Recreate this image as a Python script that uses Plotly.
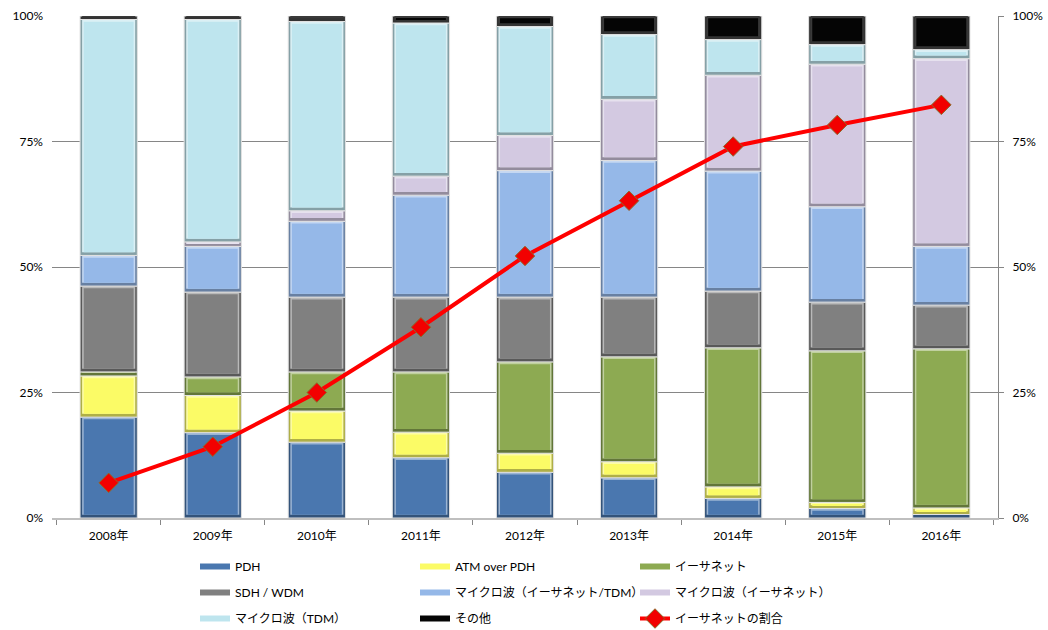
import plotly.graph_objects as go

years = ["2008年", "2009年", "2010年", "2011年", "2012年", "2013年", "2014年", "2015年", "2016年"]

# Share of each backhaul technology (%)
pdh = [20.1, 17.0, 15.1, 12.0, 9.1, 8.0, 3.9, 1.9, 0.7]
atm_over_pdh = [8.2, 7.4, 6.2, 5.1, 3.8, 3.2, 2.3, 1.2, 1.3]
ethernet = [0.8, 3.7, 7.8, 12.0, 18.2, 20.9, 27.7, 30.2, 31.7]
sdh_wdm = [17.1, 16.9, 14.9, 14.9, 12.9, 11.9, 11.3, 9.7, 8.7]
mw_eth_tdm = [6.1, 9.1, 15.1, 20.3, 25.2, 27.2, 23.9, 19.0, 11.7]
mw_eth = [0.0, 0.9, 2.1, 3.8, 7.0, 12.2, 19.1, 28.4, 37.4]
mw_tdm = [47.0, 44.3, 37.7, 30.5, 21.7, 12.9, 7.1, 3.9, 1.8]
other = [0.7, 0.7, 1.1, 1.4, 2.1, 3.7, 4.7, 5.7, 6.7]

# Ethernet share line (%)
ethernet_share = [7.0, 14.2, 25.0, 38.0, 52.2, 63.2, 74.0, 78.3, 82.3]

y_ticks = [0, 25, 50, 75, 100]
y_tick_text = ["0%", "25%", "50%", "75%", "100%"]

series = [
    ("PDH", pdh, "#4A77AF", "legend"),
    ("ATM over PDH", atm_over_pdh, "#FBFB66", "legend2"),
    ("イーサネット", ethernet, "#8DAA52", "legend3"),
    ("SDH / WDM", sdh_wdm, "#808080", "legend"),
    ("マイクロ波（イーサネット/TDM）", mw_eth_tdm, "#95B8E8", "legend2"),
    ("マイクロ波（イーサネット）", mw_eth, "#D3C9E1", "legend3"),
    ("マイクロ波（TDM）", mw_tdm, "#BEE5EE", "legend"),
    ("その他", other, "#050505", "legend2"),
]

FONT = "Lato, 'Noto Sans CJK JP', sans-serif"
BAR_W = 0.55          # outer bar width (category units)
FACE_W = 0.48         # inner face width for the bevel look
INSET_BOTTOM = 0.65   # % units
INSET_TOP = 0.45


def shade(hex_color, k):
    h = hex_color.lstrip("#")
    r, g, b = (int(h[i:i + 2], 16) for i in (0, 2, 4))
    if k < 1:
        r, g, b = (int(c * k) for c in (r, g, b))
    else:
        r, g, b = (int(c + (255 - c) * (k - 1)) for c in (r, g, b))
    return f"rgb({r},{g},{b})"


fig = go.Figure()

cum = [0.0] * len(years)
for name, vals, color, leg in series:
    base = list(cum)
    edge = "#333333" if color == "#050505" else shade(color, 0.7)
    # bevel frame
    fig.add_trace(go.Bar(
        x=years, y=vals, base=base, width=BAR_W, name=name,
        marker=dict(color=edge, line=dict(color="#E2E2E2", width=1)),
        showlegend=False, hoverinfo="skip",
    ))
    # top highlight
    hi = [max(v - INSET_BOTTOM, 0) for v in vals]
    fig.add_trace(go.Bar(
        x=years, y=hi, base=[b + INSET_BOTTOM for b in base], width=FACE_W + 0.03,
        marker=dict(color=shade(color, 1.45) if color != "#050505" else "#3A3A3A",
                    line=dict(width=0)),
        showlegend=False, hoverinfo="skip",
    ))
    # face
    face = [max(v - INSET_BOTTOM - INSET_TOP, 0) for v in vals]
    fig.add_trace(go.Bar(
        x=years, y=face, base=[b + INSET_BOTTOM for b in base], width=FACE_W,
        marker=dict(color=color, line=dict(width=0)),
        showlegend=False, name=name,
    ))
    cum = [c + v for c, v in zip(cum, vals)]

# legend swatches drawn as short thick strokes
for name, vals, color, leg in series:
    fig.add_trace(go.Scatter(
        x=[None], y=[None], name=name, mode="lines",
        line=dict(color=color, width=6),
        legend=leg, legendgroup=name, showlegend=True,
    ))

fig.add_trace(go.Scatter(
    x=years, y=ethernet_share, name="イーサネットの割合",
    mode="lines+markers", yaxis="y2",
    line=dict(color="#FF0000", width=4),
    marker=dict(symbol="diamond", size=15, color="#F20000",
                line=dict(color="#8C6A2A", width=1)),
    legend="legend3", legendgroup="share",
))

legend_common = dict(
    orientation="v", traceorder="grouped", tracegroupgap=7,
    xref="container", yref="container", yanchor="top", xanchor="left",
    font=dict(family=FONT, size=12, color="#000000"),
    bgcolor="rgba(0,0,0,0)", itemclick=False,
)

fig.update_layout(
    width=1048, height=630,
    margin=dict(l=52, r=50, t=16, b=112, autoexpand=False),
    paper_bgcolor="white", plot_bgcolor="white",
    barmode="overlay",
    font=dict(family=FONT, size=12, color="#000000"),
    xaxis=dict(
        type="category", showgrid=False,
        showline=True, linecolor="#BFBFBF", linewidth=2,
        ticks="outside", tickson="boundaries", ticklen=5, tickcolor="#868686",
        ticklabelstandoff=6, tickfont=dict(size=12),
    ),
    yaxis=dict(
        range=[0, 100], tickvals=y_ticks, ticktext=y_tick_text,
        showgrid=True, gridcolor="#868686", gridwidth=1,
        showline=False, zeroline=False, ticks="", ticklabelstandoff=8,
        tickfont=dict(size=12),
    ),
    yaxis2=dict(
        range=[0, 100], tickvals=y_ticks, ticktext=y_tick_text,
        overlaying="y", side="right", showgrid=False, zeroline=False,
        showline=True, linecolor="#868686", linewidth=1,
        ticks="outside", ticklen=5, tickcolor="#868686", ticklabelstandoff=6,
        tickfont=dict(size=12),
    ),
    legend=dict(x=195 / 1048, y=1 - 552 / 630, **legend_common),
    legend2=dict(x=415 / 1048, y=1 - 552 / 630, **legend_common),
    legend3=dict(x=635 / 1048, y=1 - 552 / 630, **legend_common),
    showlegend=True,
)

fig.write_html("out.html")
